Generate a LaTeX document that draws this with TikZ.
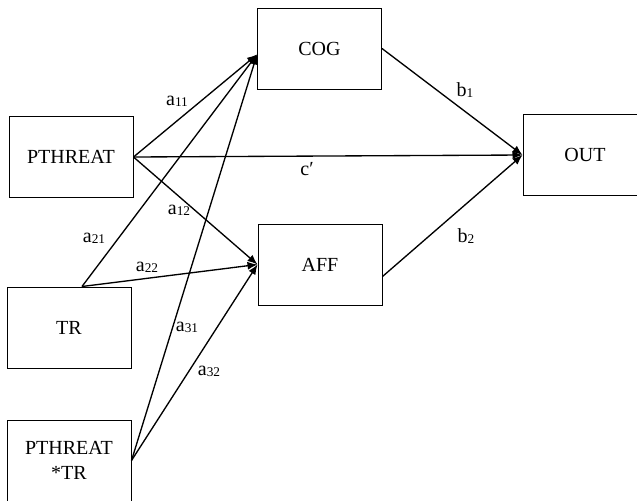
\documentclass[tikz,border=0pt]{standalone}
\usepackage{fontspec}
\setmainfont{Liberation Serif}
\usetikzlibrary{arrows.meta}
\newcommand{\pathlab}[2]{#1{\fontsize{10}{10}\selectfont\raisebox{-0.8pt}{#2}}}

\begin{document}
\begin{tikzpicture}[x=0.75pt, y=-0.75pt, font=\fontsize{15}{18.75}\selectfont, box/.style={draw, rectangle, minimum width=93pt, minimum height=60.75pt, line width=0.75pt, align=center, inner sep=0pt}, lab/.style={inner sep=0pt}, n/.style={-{Latex[length=7.5pt, width=6pt]}, line width=1pt}]
                \useasboundingbox (0,0) rectangle (637,501);
                % nodes
                \node[box] (pthreat) at (71,157) {PTHREAT};
                \node[box] (tr) at (69,327.5) {TR};
                \node[box] (inter) at (69,460.5) {PTHREAT\\*TR};
                \node[box] (cog) at (319.5,48.5) {COG};
                \node[box] (aff) at (320,264.5) {AFF};
                \node[box] (out) at (585,155) {OUT};
                \coordinate (cogin) at ([yshift=-4.5pt]cog.west);
                \coordinate (trout) at ([xshift=9.75pt]tr.north);
                \coordinate (affout) at ([yshift=-9pt]aff.east);
                % edges
                \draw [n] (pthreat.east) -- (cogin);
                \draw [n] (pthreat.east) -- (aff.west);
                \draw [n] (pthreat.east) -- (out.west);
                \draw [n] (trout) -- (cogin);
                \draw [n] (trout) -- (aff.west);
                \draw [n] (inter.east) -- (cogin);
                \draw [n] (inter.east) -- (aff.west);
                \draw [n] (cog.east) -- (out.west);
                \draw [n] (affout) -- (out.west);
                % labels
                \node[lab] (a11) at (177,101) {\pathlab{a}{11}};
                \node[lab] (a12) at (179,210) {\pathlab{a}{12}};
                \node[lab] (a21) at (94,238) {\pathlab{a}{21}};
                \node[lab] (a22) at (147,267) {\pathlab{a}{22}};
                \node[lab] (a31) at (187,327) {\pathlab{a}{31}};
                \node[lab] (a32) at (209,371) {\pathlab{a}{32}};
                \node[lab] (b1) at (465,90) {\pathlab{b}{1}};
                \node[lab] (b2) at (466,236) {\pathlab{b}{2}};
                \node[lab] (c) at (307,169) {c′};
            \end{tikzpicture}
\end{document}
